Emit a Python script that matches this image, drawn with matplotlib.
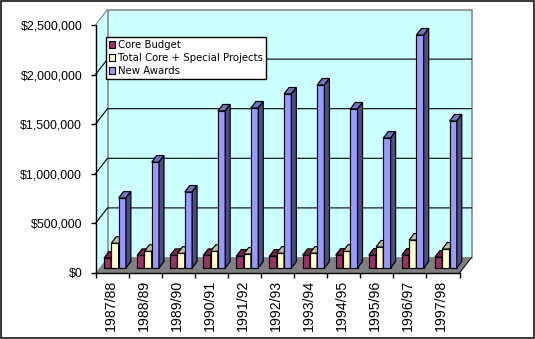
import matplotlib
matplotlib.use('Agg')
import matplotlib.pyplot as plt
from matplotlib.patches import Polygon, Patch, Rectangle

years = ['1987/88', '1988/89', '1989/90', '1990/91', '1991/92', '1992/93',
         '1993/94', '1994/95', '1995/96', '1996/97', '1997/98']
core_budget = [100000, 127000, 127000, 127000, 120000, 120000, 127000, 130000, 130000, 130000, 110000]
total_core = [250000, 168000, 148000, 168000, 141000, 150000, 150000, 168000, 212000, 282000, 191000]
new_awards = [705000, 1068000, 766000, 1583000, 1613000, 1754000, 1845000, 1603000, 1310000, 2349000, 1482000]
y_ticks = [0, 500000, 1000000, 1500000, 2000000, 2500000]
y_labels = ['$0', '$500,000', '$1,000,000', '$1,500,000', '$2,000,000', '$2,500,000']
names = ['Core Budget', 'Total Core + Special Projects', 'New Awards']

W, H = 535, 339
fig = plt.figure(figsize=(W / 100, H / 100), dpi=100, facecolor='white')
fig.patches.append(Rectangle((0.5 / W, 1 / H), 533 / W, 337.5 / H, transform=fig.transFigure,
                             fill=False, edgecolor='black', lw=1.1))

L, R, T, B = 95.5, 459.5, 25, 273
ax = fig.add_axes([L / W, 1 - B / H, (R - L) / W, (B - T) / H])
ax.set_xlim(0, 11)
ax.set_ylim(0, 2500000)
ax.patch.set_visible(False)

# pixel -> data size
PX = 11 / (R - L)
PY = 2500000 / (B - T)
wall_dx, wall_dy = 12 * PX, 15.5 * PY


def poly(pts, fc, ec='black', lw=0.85, z=2):
    ax.add_patch(Polygon(pts, closed=True, facecolor=fc, edgecolor=ec, lw=lw, zorder=z,
                         clip_on=False, joinstyle='miter'))


top = 2500000
# walls and floor
poly([(0, 0), (wall_dx, wall_dy), (wall_dx, top + wall_dy), (0, top)], '#CCFFFF', 'none', z=1)
poly([(wall_dx, wall_dy), (11 + wall_dx, wall_dy), (11 + wall_dx, top + wall_dy), (wall_dx, top + wall_dy)],
     '#CCFFFF', '#808080', lw=1.1, z=1)
poly([(0, 0), (wall_dx, wall_dy), (11 + wall_dx, wall_dy), (11, 0)], '#808080', 'none', z=1.5)
ax.plot([0, wall_dx], [top, top + wall_dy], color='#808080', lw=0.8, zorder=1.6, clip_on=False)
ax.plot([11, 11 + wall_dx], [0, wall_dy], color='black', lw=0.7, zorder=1.6, clip_on=False)

for v in y_ticks[1:-1]:
    ax.plot([0, wall_dx, 11 + wall_dx], [v, v + wall_dy, v + wall_dy], color='black', lw=0.8,
            zorder=1.2, clip_on=False)

# bars with depth
bar_w = 7.3 * PX
start = 8.5 * PX
base = 5 * PY
d_x, d_y = 5 * PX, 6.5 * PY
colors = [('#993366', '#802050', '#802050'),
          ('#FFFFCC', '#BFBF99', '#808066'),
          ('#9999FF', '#7373BF', '#4D4D80')]
series = [core_budget, total_core, new_awards]

for i in range(len(years)):
    for k, vals in enumerate(series):
        x0 = i + start + k * bar_w
        x1 = x0 + bar_w
        y1 = vals[i] + base
        front, top_c, side = colors[k]
        ax.bar(x0, vals[i], width=bar_w, bottom=base, align='edge', color=front,
               edgecolor='black', lw=0.85, zorder=3 + i + k * 0.1, clip_on=False)
        poly([(x0, y1), (x0 + d_x, y1 + d_y), (x1 + d_x, y1 + d_y), (x1, y1)], top_c, z=3 + i + k * 0.1)
        poly([(x1, base), (x1 + d_x, base + d_y), (x1 + d_x, y1 + d_y), (x1, y1)], side, z=3 + i + k * 0.1)

for s in ['top', 'right']:
    ax.spines[s].set_visible(False)
for s in ['left', 'bottom']:
    ax.spines[s].set_linewidth(1.0)
    ax.spines[s].set_zorder(30)

ax.set_yticks(y_ticks)
ax.set_yticklabels(y_labels, fontfamily='Liberation Sans', fontsize=8.9)
ax.set_xticks(range(12))
ax.set_xticklabels([''] * 12)
ax.tick_params(axis='y', length=3.6, width=1.0, pad=6)
ax.tick_params(axis='x', length=3.6, width=1.0)
for i, label in enumerate(years):
    ax.annotate(label, (i + 0.45, 0), xytext=(0, -7), textcoords='offset pixels', rotation=90,
                ha='center', va='top', fontfamily='Liberation Sans', fontsize=10.2, annotation_clip=False)

handles = [Patch(facecolor=c[0], edgecolor='black', lw=0.8) for c in colors]
leg = ax.legend(handles, names, loc='upper left', bbox_to_anchor=((106 - L) / (R - L), 1 - (37 - T) / (B - T)),
                borderaxespad=0, fancybox=False, framealpha=1, edgecolor='black', facecolor='white',
                prop={'family': 'DejaVu Sans', 'size': 7.3}, labelspacing=0.3, handlelength=0.55,
                handleheight=0.55, handletextpad=0.3, borderpad=0.3)
leg.get_frame().set_linewidth(1.0)
leg.set_zorder(40)

fig.savefig('out.png', dpi=100, facecolor='white')
